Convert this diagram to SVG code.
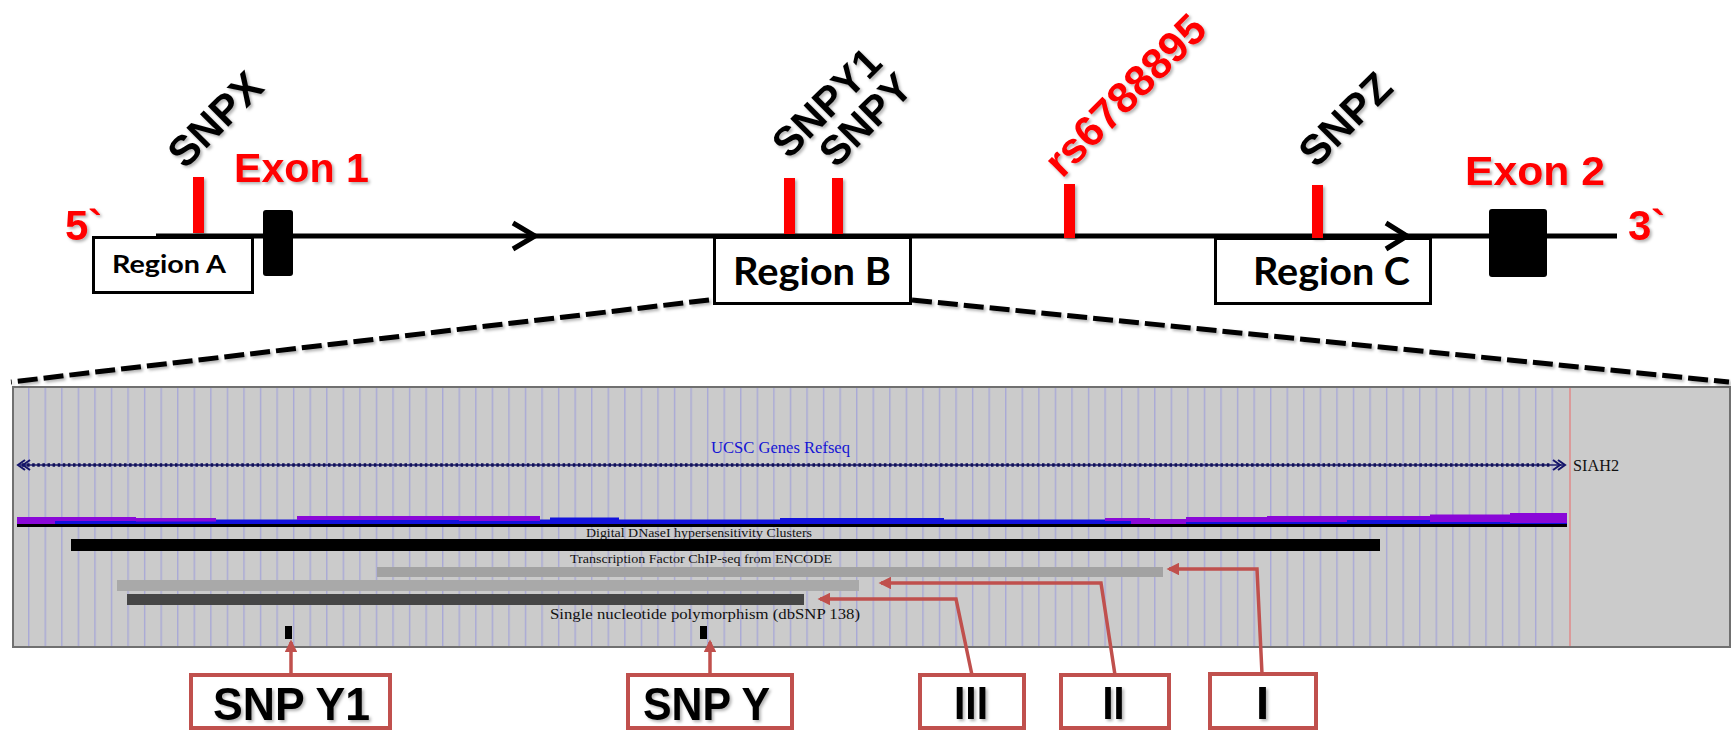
<svg xmlns="http://www.w3.org/2000/svg" width="1731" height="731" viewBox="0 0 1731 731">
<style>
.lbl{font-family:"Liberation Sans",Arial,sans-serif;font-weight:bold;fill:#000}
.red{fill:#ff0000}
.tick{fill:#ff0000}
.reg{fill:#fff;stroke:#000;stroke-width:3}
.regt{font-family:Lato,"Liberation Sans",sans-serif;font-weight:bold;fill:#000}
.dash{fill:none;stroke:#000;stroke-width:5;stroke-dasharray:20 6}
.ucsc{font-family:"Liberation Serif","Times New Roman",serif;fill:#111}
.ann{fill:none;stroke:#c0504d;stroke-width:3.5}
.abox{fill:#fff;stroke:#c0504d;stroke-width:4}
.abt{font-family:"Liberation Sans",Arial,sans-serif;font-weight:bold;fill:#000;font-size:47px}
.chev{fill:none;stroke:#000;stroke-width:5}
</style>
<defs>
<filter id="sh" x="-20%" y="-20%" width="140%" height="140%">
<feDropShadow dx="2" dy="2" stdDeviation="1.5" flood-color="#000" flood-opacity="0.3"/>
</filter>
<pattern id="grid" patternUnits="userSpaceOnUse" x="28" y="0" width="16.56" height="20">
<rect x="0" y="0" width="1.4" height="20" fill="#a9a9d6"/>
</pattern>
<marker id="ah" viewBox="0 0 10 10" refX="8" refY="5" markerWidth="3.6" markerHeight="3.6" orient="auto" markerUnits="strokeWidth">
<path d="M0,0 L10,5 L0,10 z" fill="#c0504d"/>
</marker>
</defs>
<rect width="1731" height="731" fill="#fff"/>

<g id="gene">
<line x1="156" y1="236" x2="1617" y2="236" stroke="#000" stroke-width="5"/>
<text class="lbl red" x="65" y="240" font-size="42" filter="url(#sh)">5`</text>
<text class="lbl red" x="1628" y="240" font-size="42" filter="url(#sh)">3`</text>
</g>

<g id="region-a">
<rect class="reg" x="93.5" y="237.5" width="159" height="55"/>
<text class="regt" x="112" y="273" font-size="25" textLength="114" lengthAdjust="spacingAndGlyphs">Region A</text>
</g>
<g id="region-b">
<rect class="reg" x="714.5" y="237.5" width="196" height="66"/>
<text class="regt" x="733" y="285" font-size="38" textLength="158" lengthAdjust="spacingAndGlyphs">Region B</text>
</g>
<g id="region-c">
<rect class="reg" x="1215.5" y="238.5" width="215" height="65"/>
<text class="regt" x="1253" y="285" font-size="38" textLength="157" lengthAdjust="spacingAndGlyphs">Region C</text>
</g>

<g id="direction-arrows">
<polyline class="chev" points="513,223 535,236 513,249"/>
<polyline class="chev" points="1386,223 1407,236 1386,249"/>
</g>

<g id="exon1">
<rect x="263" y="210" width="30" height="66" rx="3" fill="#000"/>
<text class="lbl red" x="234" y="182" font-size="41" textLength="135" lengthAdjust="spacingAndGlyphs" filter="url(#sh)">Exon 1</text>
</g>
<g id="exon2">
<rect x="1489" y="209" width="58" height="68" rx="3" fill="#000"/>
<text class="lbl red" x="1465" y="185" font-size="41" textLength="140" lengthAdjust="spacingAndGlyphs" filter="url(#sh)">Exon 2</text>
</g>

<g id="snpx" filter="url(#sh)">
<rect class="tick" x="193" y="177" width="11" height="56"/>
<text class="lbl" transform="translate(185,170) rotate(-45)" font-size="42">SNPX</text>
</g>
<g id="snpy1" filter="url(#sh)">
<rect class="tick" x="784" y="178" width="11" height="56"/>
<text class="lbl" transform="translate(789,160) rotate(-45)" font-size="41">SNPY1</text>
</g>
<g id="snpy" filter="url(#sh)">
<rect class="tick" x="832" y="178" width="11" height="56"/>
<text class="lbl" transform="translate(836,169) rotate(-45)" font-size="41">SNPY</text>
</g>
<g id="rs6788895" filter="url(#sh)">
<rect class="tick" x="1064" y="184" width="11" height="54"/>
<text class="lbl red" transform="translate(1062,179) rotate(-45)" font-size="43">rs6788895</text>
</g>
<g id="snpz" filter="url(#sh)">
<rect class="tick" x="1312" y="185" width="11" height="53"/>
<text class="lbl" transform="translate(1316,169) rotate(-45)" font-size="42">SNPZ</text>
</g>

<g id="browser">
<rect x="13" y="387" width="1717" height="260" fill="#cbcbcb" stroke="#707070" stroke-width="2"/>
<rect x="14" y="388" width="1554" height="258" fill="url(#grid)"/>
<line x1="1570" y1="388" x2="1570" y2="646" stroke="#e08a8a" stroke-width="1.5"/>

<line x1="20" y1="465" x2="1564" y2="465" stroke="#1a1a6a" stroke-width="1.4"/>
<line x1="22" y1="465" x2="1552" y2="465" stroke="#10105a" stroke-width="3.5" stroke-dasharray="2.5 2.6"/>
<path d="M30,460 L23,465 L30,470 M25,460 L18,465 L25,470" fill="none" stroke="#14146a" stroke-width="2"/>
<path d="M1553,460 L1560,465 L1553,470 M1558,460 L1565,465 L1558,470" fill="none" stroke="#14146a" stroke-width="2"/>
<text class="ucsc" x="711" y="453" font-size="17" style="fill:#1414d4" textLength="139" lengthAdjust="spacingAndGlyphs">UCSC Genes Refseq</text>
<text class="ucsc" x="1573" y="471" font-size="16" textLength="46" lengthAdjust="spacingAndGlyphs">SIAH2</text>

<rect x="17" y="519.5" width="1550" height="5" fill="#1212dc"/>
<rect x="550" y="517.5" width="69" height="7" fill="#1212dc"/>
<rect x="780" y="518" width="164" height="6.5" fill="#1212dc"/>
<g fill="#8a08d8">
<rect x="17" y="517" width="38" height="7"/>
<rect x="55" y="517" width="81" height="4"/>
<rect x="136" y="518" width="80" height="3.5"/>
<rect x="297" y="516" width="162" height="4"/>
<rect x="459" y="516" width="81" height="5"/>
<rect x="1105" y="518" width="45" height="3"/>
<rect x="1131" y="519" width="55" height="5"/>
<rect x="1186" y="517" width="81" height="5"/>
<rect x="1267" y="516" width="80" height="6"/>
<rect x="1347" y="516" width="83" height="4"/>
<rect x="1430" y="514.5" width="80" height="7.5"/>
<rect x="1510" y="513" width="57" height="10"/>
</g>
<rect x="17" y="524" width="1550" height="3" fill="#000"/>

<text class="ucsc" x="586" y="537" font-size="12" textLength="226" lengthAdjust="spacingAndGlyphs">Digital DNaseI hypersensitivity Clusters</text>
<rect x="71" y="539" width="1309" height="12" fill="#000"/>
<text class="ucsc" x="570" y="563" font-size="12" textLength="262" lengthAdjust="spacingAndGlyphs">Transcription Factor ChIP-seq from ENCODE</text>
<rect x="377" y="567" width="786" height="10" fill="#a2a2a2"/>
<rect x="117" y="580" width="742" height="11" fill="#a9a9a9"/>
<rect x="127" y="594" width="677" height="11" fill="#464646"/>
<text class="ucsc" x="550" y="619" font-size="15" textLength="310" lengthAdjust="spacingAndGlyphs">Single nucleotide polymorphism (dbSNP 138)</text>
<rect x="285" y="626" width="7" height="13" fill="#000"/>
<rect x="700" y="626" width="7" height="13" fill="#000"/>
</g>

<g id="connectors">
<line class="dash" x1="709" y1="300" x2="11" y2="382" filter="url(#sh)"/>
<line class="dash" x1="912" y1="300" x2="1729" y2="382" filter="url(#sh)"/>
<polyline class="ann" points="291,675 291,642" marker-end="url(#ah)"/>
<polyline class="ann" points="710,675 710,642" marker-end="url(#ah)"/>
<polyline class="ann" points="972,675 956,599 820,599" marker-end="url(#ah)"/>
<polyline class="ann" points="1115,675 1101,583 881,583" marker-end="url(#ah)"/>
<polyline class="ann" points="1262,674 1257,569 1169,569" marker-end="url(#ah)"/>
</g>

<g id="box-snpy1">
<rect class="abox" x="191" y="675" width="199" height="53"/>
<text class="abt" x="213" y="720" textLength="157" lengthAdjust="spacingAndGlyphs" filter="url(#sh)">SNP Y1</text>
</g>
<g id="box-snpy">
<rect class="abox" x="628" y="675" width="164" height="53"/>
<text class="abt" x="643" y="720" textLength="127" lengthAdjust="spacingAndGlyphs" filter="url(#sh)">SNP Y</text>
</g>
<g id="box-iii">
<rect class="abox" x="920" y="675" width="104" height="53"/>
<text class="abt" x="971" y="719" text-anchor="middle" textLength="34" lengthAdjust="spacingAndGlyphs" filter="url(#sh)">III</text>
</g>
<g id="box-ii">
<rect class="abox" x="1061" y="675" width="108" height="53"/>
<text class="abt" x="1113.5" y="719" text-anchor="middle" textLength="22" lengthAdjust="spacingAndGlyphs" filter="url(#sh)">II</text>
</g>
<g id="box-i">
<rect class="abox" x="1210" y="674" width="106" height="54"/>
<text class="abt" x="1262.5" y="719" text-anchor="middle" filter="url(#sh)">I</text>
</g>
</svg>
